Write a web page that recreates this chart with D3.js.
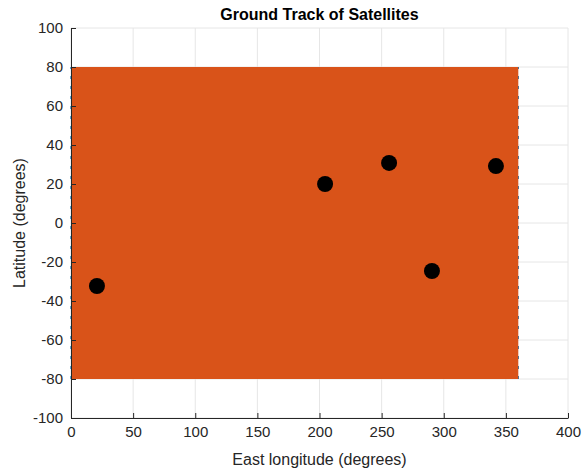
<!DOCTYPE html>
<html>
<head>
<meta charset="utf-8">
<script src="https://cdn.jsdelivr.net/npm/d3@7"></script>
<style>
  body { margin: 0; background: #fff; }
  text { font-family: "Liberation Sans", Arial, Helvetica, sans-serif; }
</style>
</head>
<body>
<div id="chart"></div>
<script>
// satellite positions (east longitude, latitude)
var satLon = [20.9, 204.5, 256, 290.5, 342]
var satLat = [-32.3, 20, 30.8, -24.6, 29.2]

// extent swept by the ground track
var trackLon = [0, 360]
var trackLat = [-80, 80]

var xTicks = [0, 50, 100, 150, 200, 250, 300, 350, 400]
var yTicks = [-100, -80, -60, -40, -20, 0, 20, 40, 60, 80, 100]

var width = 583, height = 472
var margin = {top: 28, right: 15, bottom: 54, left: 71}

var svg = d3.select("#chart").append("svg")
  .attr("width", width)
  .attr("height", height)

var x = d3.scaleLinear().domain([0, 400]).range([margin.left, width - margin.right])
var y = d3.scaleLinear().domain([-100, 100]).range([height - margin.bottom, margin.top])

// grid
svg.append("g").selectAll("line")
  .data(xTicks)
  .enter().append("line")
  .attr("x1", d => x(d)).attr("x2", d => x(d))
  .attr("y1", y(-100)).attr("y2", y(100))
  .attr("stroke", "#e6e6e6")
svg.append("g").selectAll("line")
  .data(yTicks)
  .enter().append("line")
  .attr("x1", x(0)).attr("x2", x(400))
  .attr("y1", d => y(d)).attr("y2", d => y(d))
  .attr("stroke", "#e6e6e6")

// ground track: blue underneath shows at the wrap edges, orange covers the rest
svg.append("g").selectAll("line")
  .data(trackLon)
  .enter().append("line")
  .attr("x1", d => x(d)).attr("x2", d => x(d))
  .attr("y1", y(trackLat[0])).attr("y2", y(trackLat[1]))
  .attr("stroke", "#0072BD")
  .attr("stroke-width", 1.2)
  .attr("stroke-dasharray", "3,7")

svg.append("rect")
  .attr("x", x(trackLon[0]))
  .attr("y", y(trackLat[1]))
  .attr("width", x(trackLon[1]) - x(trackLon[0]))
  .attr("height", y(trackLat[0]) - y(trackLat[1]))
  .attr("fill", "#D95319")

// satellites
svg.append("g").selectAll("circle")
  .data(satLon)
  .enter().append("circle")
  .attr("cx", d => x(d))
  .attr("cy", (d, i) => y(satLat[i]))
  .attr("r", 8)
  .attr("fill", "#000")

// axes
var fmt = d => String(d)
var xAxis = svg.append("g")
  .attr("transform", "translate(0," + y(-100) + ")")
  .call(d3.axisBottom(x).tickValues(xTicks).tickFormat(fmt).tickSizeInner(-5).tickSizeOuter(0).tickPadding(8))
var yAxis = svg.append("g")
  .attr("transform", "translate(" + x(0) + ",0)")
  .call(d3.axisLeft(y).tickValues(yTicks).tickFormat(fmt).tickSizeInner(-5).tickSizeOuter(0).tickPadding(8))

;[xAxis, yAxis].forEach(function(a) {
  a.select(".domain").attr("stroke", "#262626")
  a.selectAll(".tick line").attr("stroke", "#262626")
  a.selectAll(".tick text").attr("fill", "#262626").style("font-size", "15px")
})

svg.append("text")
  .attr("x", (x(0) + x(400)) / 2)
  .attr("y", 465)
  .attr("text-anchor", "middle")
  .attr("fill", "#262626")
  .style("font-size", "16px")
  .text("East longitude (degrees)")

svg.append("text")
  .attr("transform", "translate(25," + (y(0)) + ") rotate(-90)")
  .attr("text-anchor", "middle")
  .attr("fill", "#262626")
  .style("font-size", "16px")
  .text("Latitude (degrees)")

svg.append("text")
  .attr("x", (x(0) + x(400)) / 2)
  .attr("y", 20)
  .attr("text-anchor", "middle")
  .attr("fill", "#000")
  .style("font-size", "16px")
  .style("font-weight", "bold")
  .text("Ground Track of Satellites")
</script>
</body>
</html>
